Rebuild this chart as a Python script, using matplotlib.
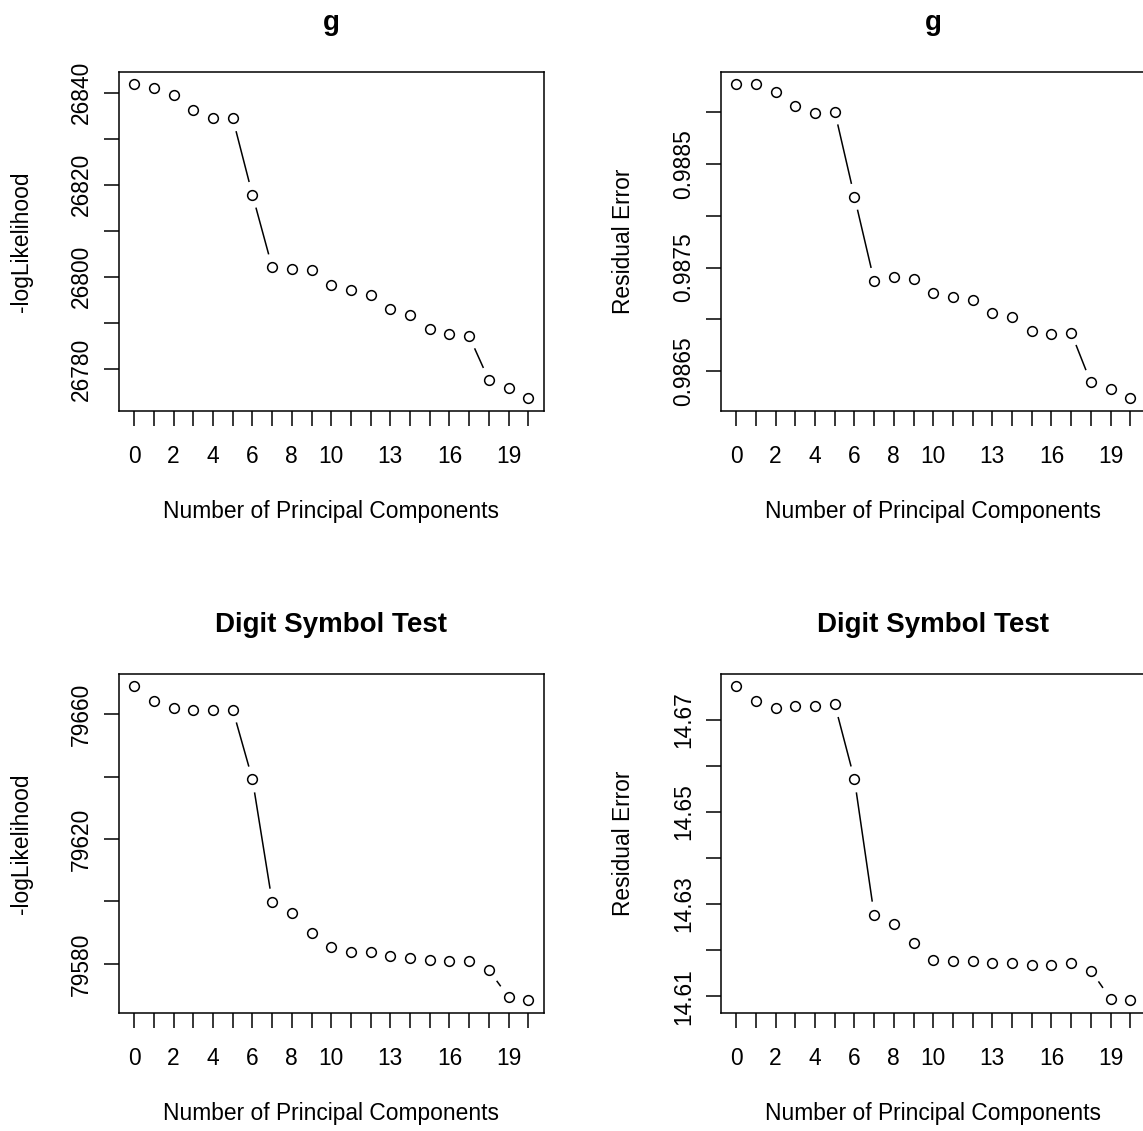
import numpy as np
import matplotlib
matplotlib.use("Agg")
import matplotlib.pyplot as plt

plt.rcParams["font.family"] = ["Liberation Sans", "DejaVu Sans"]

# ---------------------------------------------------------------------------
# DATA
# ---------------------------------------------------------------------------
n_pc = list(range(21))
xtick_labels = ["0", "", "2", "", "4", "", "6", "", "8", "", "10", "", "",
                "13", "", "", "16", "", "", "19", ""]

g_loglik = [26841.8, 26840.9, 26839.4, 26836.3, 26834.4, 26834.4, 26817.8,
            26802.1, 26801.8, 26801.4, 26798.3, 26797.1, 26796.0, 26793.0,
            26791.7, 26788.6, 26787.5, 26787.1, 26777.6, 26775.9, 26773.6]
g_resid = [0.989269, 0.989269, 0.989199, 0.989061, 0.988987, 0.989006,
           0.988183, 0.987372, 0.987407, 0.987388, 0.987250, 0.987218,
           0.987186, 0.987061, 0.987026, 0.986888, 0.986856, 0.986872,
           0.986391, 0.986324, 0.986237]
dst_loglik = [79668.9, 79664.3, 79661.9, 79661.4, 79661.4, 79661.4, 79639.1,
              79599.9, 79596.2, 79590.0, 79585.4, 79583.7, 79583.7, 79582.6,
              79582.0, 79581.4, 79580.9, 79580.9, 79578.0, 79569.4, 79568.3]
dst_resid = [14.67728, 14.67411, 14.67252, 14.67303, 14.67303, 14.67339,
             14.65709, 14.62768, 14.62566, 14.62148, 14.61794, 14.61758,
             14.61758, 14.61715, 14.61715, 14.61679, 14.61679, 14.61715,
             14.61557, 14.60944, 14.60908]

g_loglik_ticks = [26780, 26790, 26800, 26810, 26820, 26830, 26840]
g_loglik_labels = ["26780", "", "26800", "", "26820", "", "26840"]
g_resid_ticks = [0.9865, 0.9870, 0.9875, 0.9880, 0.9885, 0.9890]
g_resid_labels = ["0.9865", "", "0.9875", "", "0.9885", ""]
dst_loglik_ticks = [79580, 79600, 79620, 79640, 79660]
dst_loglik_labels = ["79580", "", "79620", "", "79660"]
dst_resid_ticks = [14.61, 14.62, 14.63, 14.64, 14.65, 14.66, 14.67]
dst_resid_labels = ["14.61", "", "14.63", "", "14.65", "", "14.67"]

# ---------------------------------------------------------------------------
# LAYOUT (pixels, R-like 2x2 device, slightly cropped)
# ---------------------------------------------------------------------------
W, H = 1143, 1131
BOX_W, BOX_H = 425.5, 339.3
LEFTS = [118.5, 720.5]
TOPS = [71.7, 673.7]
GAP_PX = 14.0   # type="b" gap around each point
FS = 16.4

fig = plt.figure(figsize=(W / 100, H / 100), dpi=100)


def panel(col, row, y, title, ylabel, yticks, ylabels):
    rect = [LEFTS[col] / W, 1 - (TOPS[row] + BOX_H) / H, BOX_W / W, BOX_H / H]
    ax = fig.add_axes(rect)
    x = np.array(n_pc, dtype=float)
    y = np.array(y, dtype=float)
    xpad = 0.04 * (x.max() - x.min())
    ypad = 0.04 * (y.max() - y.min())
    ax.set_xlim(x.min() - xpad, x.max() + xpad)
    ax.set_ylim(y.min() - ypad, y.max() + ypad)

    # points
    ax.plot(x, y, linestyle="none", marker="o", ms=7.0, mfc="none",
            mec="black", mew=1.1, clip_on=False)

    # lines with gaps (R type = "b")
    pts = ax.transData.transform(np.column_stack([x, y]))
    inv = ax.transData.inverted()
    for p0, p1 in zip(pts[:-1], pts[1:]):
        d = p1 - p0
        L = np.hypot(*d)
        if L <= 2 * GAP_PX:
            continue
        u = d / L
        a = inv.transform(p0 + u * GAP_PX)
        b = inv.transform(p1 - u * GAP_PX)
        ax.plot([a[0], b[0]], [a[1], b[1]], color="black", lw=1.1)

    for s in ax.spines.values():
        s.set_linewidth(1.1)
    ax.set_xticks(n_pc)
    ax.set_xticklabels(xtick_labels)
    ax.set_yticks(yticks)
    ax.set_yticklabels(ylabels, rotation=90, va="center")
    ax.tick_params(axis="both", direction="out", length=10.5, width=1.1,
                   labelsize=FS, top=False, right=False)
    ax.tick_params(axis="x", pad=14)
    ax.tick_params(axis="y", pad=8)

    ax.text(0.5, 1.123, title, transform=ax.transAxes, ha="center",
            va="baseline", fontsize=20, fontweight="bold")
    ax.text(0.5, -0.3154, "Number of Principal Components",
            transform=ax.transAxes, ha="center", va="baseline", fontsize=FS)
    ax.text(-0.2268, 0.5, ylabel, transform=ax.transAxes, rotation=90,
            ha="center", va="center", fontsize=FS)
    return ax


panel(0, 0, g_loglik, "g", "-logLikelihood", g_loglik_ticks, g_loglik_labels)
panel(1, 0, g_resid, "g", "Residual Error", g_resid_ticks, g_resid_labels)
panel(0, 1, dst_loglik, "Digit Symbol Test", "-logLikelihood",
      dst_loglik_ticks, dst_loglik_labels)
panel(1, 1, dst_resid, "Digit Symbol Test", "Residual Error",
      dst_resid_ticks, dst_resid_labels)

fig.savefig("out.png", dpi=100)
plt.close(fig)
